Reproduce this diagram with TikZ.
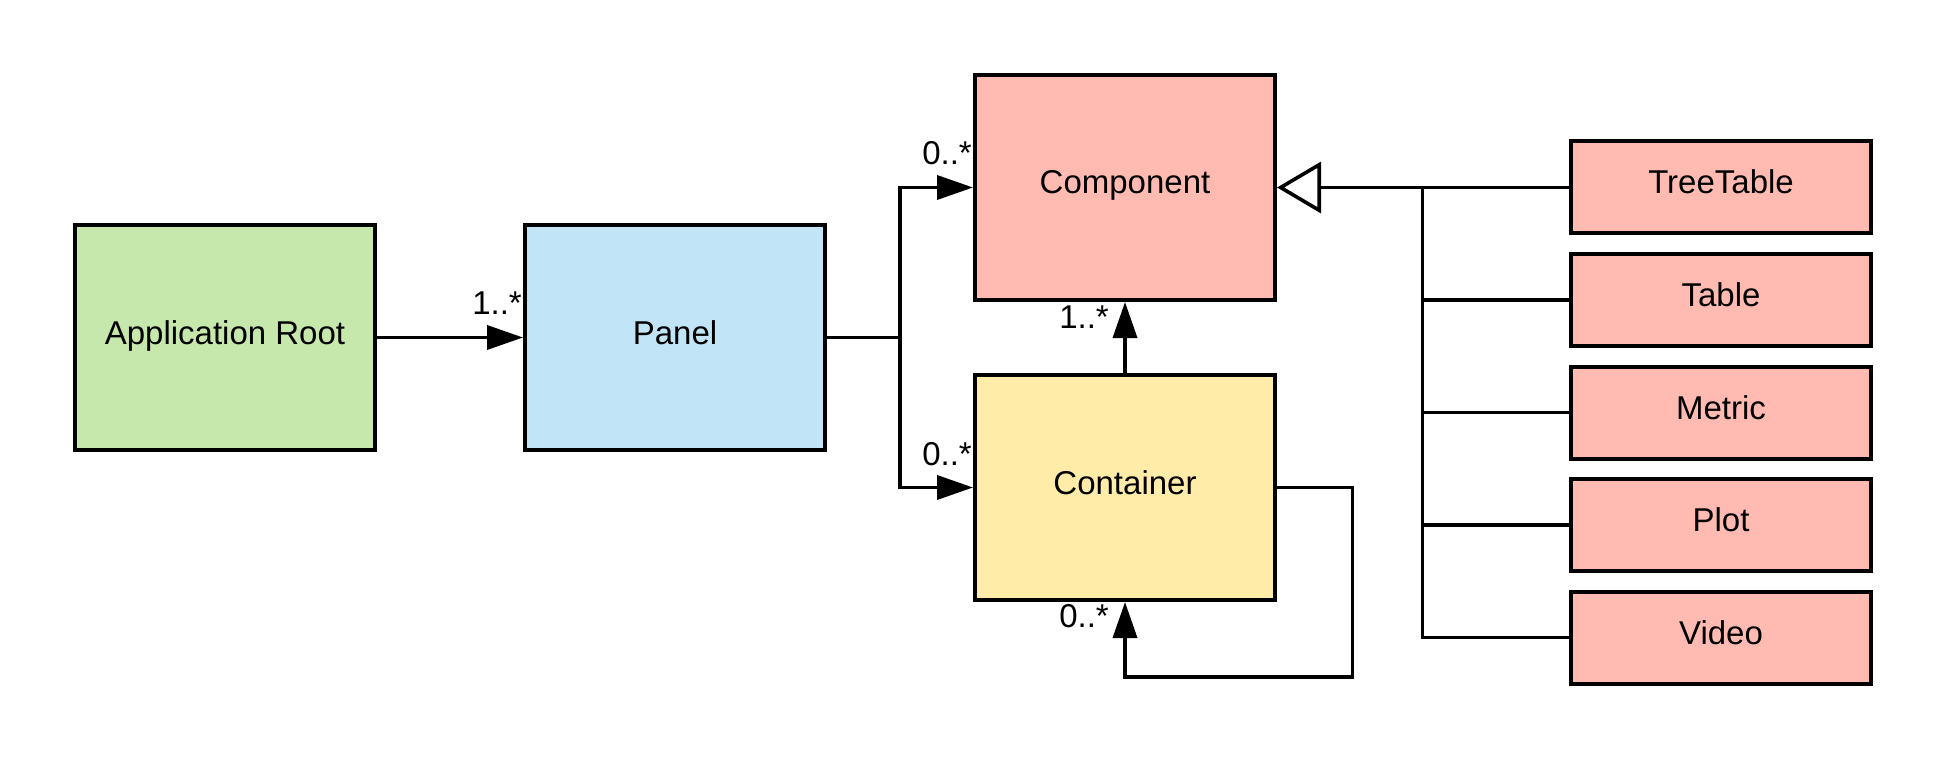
\documentclass[tikz,border=0pt]{standalone}
\usepackage{fontspec}
\setmainfont{Liberation Sans}
\usetikzlibrary{arrows.meta}
\definecolor{cgreen}{HTML}{C7E8AC}
\definecolor{cblue}{HTML}{C1E4F7}
\definecolor{cpink}{HTML}{FFBBB1}
\definecolor{cyellow}{HTML}{FFECA9}
\begin{document}
\begin{tikzpicture}[x=1pt,y=-1pt,
 box/.style={draw=black,line width=4pt,minimum width=300pt,inner sep=0pt,text height=24pt,text depth=11pt,font=\fontsize{33}{40}\selectfont},
 big/.style={box,minimum height=225pt},
 small/.style={box,minimum height=92pt,fill=cpink},
 conn/.style={line width=3.6pt},
 assoc/.style={conn,-{Triangle[length=36pt,width=24pt]}},
 gen/.style={conn,-{Triangle[open,length=44pt,width=51pt,fill=white]}},
 mult/.style={anchor=base east,inner sep=0pt,font=\fontsize{33}{40}\selectfont},
]
\useasboundingbox (0,0) rectangle (1946,759);
\node[big,fill=cgreen] (app) at (225,337.5) {Application Root};
\node[big,fill=cblue] (panel) at (675,337.5) {Panel};
\node[big,fill=cpink] (comp) at (1125,187.5) {Component};
\node[big,fill=cyellow] (cont) at (1125,487.5) {Container};
\node[small] (tt) at (1721,187.5) {TreeTable};
\node[small] (tab) at (1721,300) {Table};
\node[small] (met) at (1721,412.5) {Metric};
\node[small] (plot) at (1721,525) {Plot};
\node[small] (vid) at (1721,637.5) {Video};
\coordinate (split) at (900,337.5);
\coordinate (bus) at (1422.5,187.5);
\coordinate (loopa) at (1352.5,487.5);
\coordinate (loopb) at (1352.5,677);
\coordinate (loopc) at (1125,677);
\draw[assoc] (app.east) -- (panel.west);
\draw[conn] (panel.east) -- (split);
\draw[assoc] (split) |- (comp.west);
\draw[assoc] (split) |- (cont.west);
\draw[assoc] (cont.north) -- (comp.south);
\draw[assoc] (cont.east) -- (loopa) -- (loopb) -- (loopc) -- (cont.south);
\draw[gen] (tt.west) -- (comp.east);
\draw[conn] (vid.west) -| (bus);
\draw[conn] (tab.west) -- (tab.west -| bus);
\draw[conn] (met.west) -- (met.west -| bus);
\draw[conn] (plot.west) -- (plot.west -| bus);
\node[mult] (m1) at (522,315) {1..*};
\node[mult] (m2) at (972,165) {0..*};
\node[mult] (m3) at (972,465) {0..*};
\node[mult] (m4) at (1109,328) {1..*};
\node[mult] (m5) at (1109,627) {0..*};
\end{tikzpicture}
\end{document}
